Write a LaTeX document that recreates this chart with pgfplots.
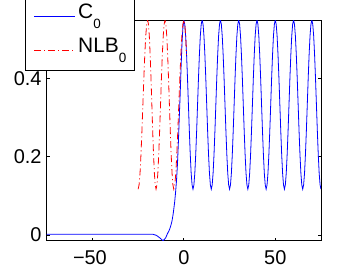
\documentclass[border=0pt]{standalone}
\usepackage{fontspec}
\setmainfont{Liberation Sans}
\usepackage{pgfplots}
\pgfplotsset{compat=1.18}
\begin{document}
\begin{tikzpicture}
\useasboundingbox (-46.7bp,-30.3bp) rectangle (308.3bp,240.7bp);
\clip (-46.7bp,-30.3bp) rectangle (308.3bp,240.7bp);
\begin{axis}[
  scale only axis,
  width=274.3bp, height=220.7bp,
  xmin=-75, xmax=75, ymin=-0.0146, ymax=0.549,
  xtick={-50,0,50}, ytick={0,0.2,0.4},
  xticklabels={\hspace*{-5bp}−50,0,50},
  tick align=inside, major tick length=3bp,
  axis line style={line width=0.75bp, black},
  every tick/.style={line width=0.75bp, black},
  /pgf/number format/assume math mode=true,
  tick label style={font=\fontsize{20}{24}\selectfont},
  xticklabel style={inner sep=0pt, anchor=north, yshift=-10bp},
  yticklabel style={inner sep=0pt, anchor=east, xshift=-5bp},
  legend style={at={(-0.0773,0.7689)}, anchor=south west, draw=black, line width=0.75bp, fill=white,
    inner xsep=8bp, inner ysep=7.9bp, row sep=9.5bp, column sep=2.5bp,
    nodes={inner sep=0pt, text depth=10.2bp},
    font=\fontsize{21}{24}\selectfont, cells={anchor=west}},
]
\addplot[blue, line width=0.8bp,
  legend image code/.code={\draw[draw=blue, line width=0.8bp] (0bp,0bp) -- (41bp,0bp);}] coordinates {
(-75,0.002)(-17,0.002)(-15,-0.001)(-13,-0.008)(-11.4,-0.0146)(-10,-0.008)(-9,0.003)(-8,0.012)(-7.3,0.021)(-6.5,0.035)(-5.8,0.055)(-5,0.085)(-4.5,0.11)(-4,0.14)(-3.5,0.18)(-3,0.235)(-2.5,0.30)(-2,0.36)(-1.5,0.43)(-1,0.49)(-0.5,0.53)
(0,0.549)(0.5,0.538)(1,0.508)(1.5,0.460)(2,0.400)(2.5,0.333)(3,0.266)(3.5,0.206)(4,0.158)(4.5,0.128)(5,0.117)(5.5,0.128)(6,0.158)(6.5,0.206)(7,0.266)(7.5,0.333)(8,0.400)(8.5,0.460)(9,0.508)(9.5,0.538)
(10,0.549)(10.5,0.538)(11,0.508)(11.5,0.460)(12,0.400)(12.5,0.333)(13,0.266)(13.5,0.206)(14,0.158)(14.5,0.128)(15,0.117)(15.5,0.128)(16,0.158)(16.5,0.206)(17,0.266)(17.5,0.333)(18,0.400)(18.5,0.460)(19,0.508)(19.5,0.538)
(20,0.549)(20.5,0.538)(21,0.508)(21.5,0.460)(22,0.400)(22.5,0.333)(23,0.266)(23.5,0.206)(24,0.158)(24.5,0.128)(25,0.117)(25.5,0.128)(26,0.158)(26.5,0.206)(27,0.266)(27.5,0.333)(28,0.400)(28.5,0.460)(29,0.508)(29.5,0.538)
(30,0.549)(30.5,0.538)(31,0.508)(31.5,0.460)(32,0.400)(32.5,0.333)(33,0.266)(33.5,0.206)(34,0.158)(34.5,0.128)(35,0.117)(35.5,0.128)(36,0.158)(36.5,0.206)(37,0.266)(37.5,0.333)(38,0.400)(38.5,0.460)(39,0.508)(39.5,0.538)
(40,0.549)(40.5,0.538)(41,0.508)(41.5,0.460)(42,0.400)(42.5,0.333)(43,0.266)(43.5,0.206)(44,0.158)(44.5,0.128)(45,0.117)(45.5,0.128)(46,0.158)(46.5,0.206)(47,0.266)(47.5,0.333)(48,0.400)(48.5,0.460)(49,0.508)(49.5,0.538)
(50,0.549)(50.5,0.538)(51,0.508)(51.5,0.460)(52,0.400)(52.5,0.333)(53,0.266)(53.5,0.206)(54,0.158)(54.5,0.128)(55,0.117)(55.5,0.128)(56,0.158)(56.5,0.206)(57,0.266)(57.5,0.333)(58,0.400)(58.5,0.460)(59,0.508)(59.5,0.538)
(60,0.549)(60.5,0.538)(61,0.508)(61.5,0.460)(62,0.400)(62.5,0.333)(63,0.266)(63.5,0.206)(64,0.158)(64.5,0.128)(65,0.117)(65.5,0.128)(66,0.158)(66.5,0.206)(67,0.266)(67.5,0.333)(68,0.400)(68.5,0.460)(69,0.508)(69.5,0.538)
(70,0.549)(70.5,0.538)(71,0.508)(71.5,0.460)(72,0.400)(72.5,0.333)(73,0.266)(73.5,0.206)(74,0.158)(74.5,0.128)(75,0.117)
};
\addlegendentry{C\raisebox{-10bp}{\fontsize{13.5}{14}\selectfont 0}}
\addplot[red, line width=0.8bp, dash pattern=on 7bp off 3bp on 1bp off 3bp,
  legend image code/.code={\draw[draw=red, line width=0.8bp, dash pattern=on 7bp off 3bp on 1bp off 3bp] (0bp,0bp) -- (41bp,0bp);}] coordinates {
(-25,0.117)(-24.48,0.128)(-23.96,0.158)(-23.44,0.206)(-22.92,0.266)(-22.4,0.333)(-21.88,0.400)(-21.36,0.460)(-20.84,0.508)(-20.32,0.538)(-19.8,0.549)
(-19.34,0.538)(-18.88,0.508)(-18.42,0.460)(-17.96,0.400)(-17.5,0.333)(-17.04,0.266)(-16.58,0.206)(-16.12,0.158)(-15.66,0.128)(-15.2,0.117)
(-14.71,0.128)(-14.22,0.158)(-13.73,0.206)(-13.24,0.266)(-12.75,0.333)(-12.26,0.400)(-11.77,0.460)(-11.28,0.508)(-10.79,0.538)(-10.3,0.549)
(-9.82,0.538)(-9.34,0.508)(-8.86,0.460)(-8.38,0.400)(-7.9,0.333)(-7.42,0.266)(-6.94,0.206)(-6.46,0.158)(-5.98,0.128)(-5.5,0.117)
(-4.95,0.128)(-4.4,0.158)(-3.85,0.206)(-3.3,0.266)(-2.75,0.333)(-2.2,0.400)(-1.65,0.460)(-1.1,0.508)(-0.55,0.538)(0,0.549)
(0.5,0.538)(1,0.508)(1.5,0.460)
};
\addlegendentry{NLB\raisebox{-10bp}{\fontsize{13.5}{14}\selectfont 0}}
\end{axis}
\end{tikzpicture}
\end{document}
